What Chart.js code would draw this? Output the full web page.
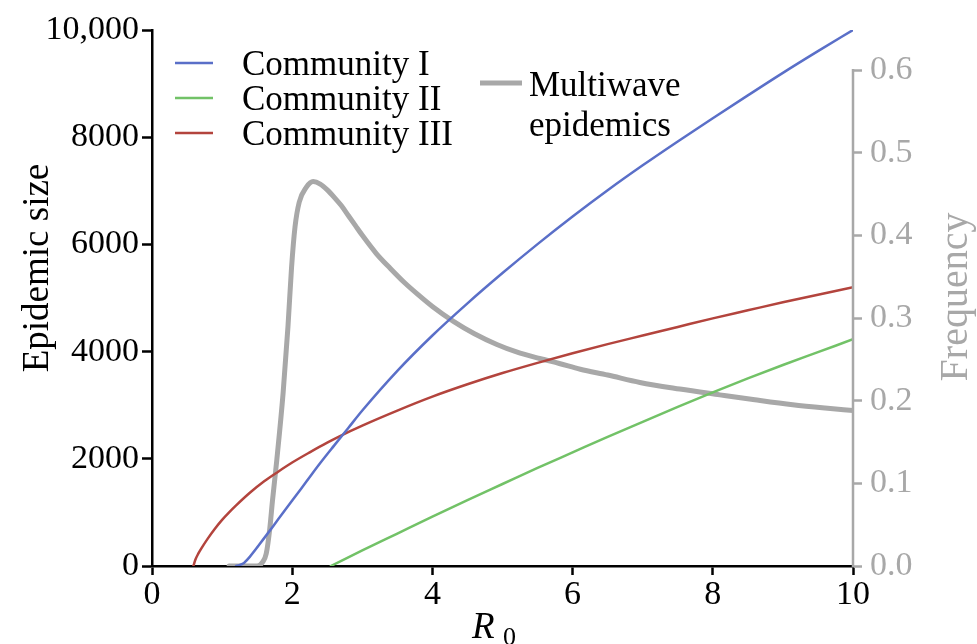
<!DOCTYPE html>
<html>
<head>
<meta charset="utf-8">
<script src="https://cdn.jsdelivr.net/npm/chart.js@4"></script>
<style>
  body { margin: 0; background: #fff; }
  canvas { display: block; }
</style>
</head>
<body>
<canvas id="myChart" width="977" height="644"></canvas>
<script>
// epidemic size per community against R0
var community1R0 = [1.2, 1.3, 1.4, 1.6, 1.8, 2.0, 2.2, 2.4, 2.6, 2.8, 3.0, 3.5, 4.0, 4.5, 5.0, 5.5, 6.0, 6.5, 7.0, 7.5, 8.0, 8.5, 9.0, 9.5, 10];
var community1Size = [0, 45, 180, 520, 870, 1220, 1570, 1920, 2250, 2575, 2900, 3640, 4300, 4900, 5465, 6005, 6520, 7010, 7475, 7920, 8355, 8780, 9200, 9605, 10000];

var community2R0 = [2.55, 3, 3.5, 4, 4.5, 5, 5.5, 6, 6.5, 7, 7.5, 8, 8.5, 9, 9.5, 10];
var community2Size = [0, 290, 605, 920, 1230, 1530, 1830, 2120, 2410, 2690, 2970, 3240, 3500, 3750, 3990, 4230];

var community3R0 = [0.59, 0.62, 0.66, 0.7, 0.8, 0.9, 1.0, 1.1, 1.2, 1.4, 1.6, 1.8, 2.0, 2.25, 2.5, 2.82, 3.0, 3.5, 4.0, 4.5, 5.0, 5.5, 6.0, 6.5, 7.0, 7.5, 8.0, 8.5, 9.0, 9.5, 10];
var community3Size = [0, 120, 230, 320, 520, 700, 860, 1000, 1130, 1370, 1580, 1760, 1930, 2120, 2300, 2510, 2620, 2900, 3160, 3390, 3600, 3790, 3970, 4140, 4300, 4460, 4620, 4770, 4920, 5060, 5200];

// frequency of multiwave epidemics (right axis)
var multiwaveR0 = [1.1, 1.5, 1.58, 1.63, 1.68, 1.72, 1.78, 1.87, 1.94, 1.99, 2.04, 2.1, 2.2, 2.3, 2.4, 2.5, 2.6, 2.7, 2.8, 2.9, 3.0, 3.2, 3.4, 3.6, 3.8, 4.0, 4.3, 4.6, 4.92, 5.2, 5.53, 5.81, 6.11, 6.5, 6.96, 7.53, 8.1, 8.6, 9.14, 9.6, 10];
var multiwaveFreq = [0, 0, 0.005, 0.015, 0.045, 0.08, 0.128, 0.209, 0.29, 0.36, 0.41, 0.44, 0.458, 0.465, 0.462, 0.455, 0.446, 0.436, 0.424, 0.412, 0.4, 0.378, 0.36, 0.343, 0.328, 0.314, 0.296, 0.281, 0.268, 0.259, 0.251, 0.245, 0.238, 0.231, 0.222, 0.214, 0.207, 0.201, 0.195, 0.191, 0.188];

var xTicks = [0, 2, 4, 6, 8, 10];
var sizeTicks = [0, 2000, 4000, 6000, 8000, 10000];
var freqTicks = [0, 0.1, 0.2, 0.3, 0.4, 0.5, 0.6];

var serif = "'Liberation Serif', 'Times New Roman', serif";
var grey = '#a8a8a8';

function toPoints(xs, ys) {
    return xs.map(function (x, i) { return { x: x, y: ys[i] }; });
}

// the right axis stops at 0.6 while sharing the plot height with 0..10,000
var freqMax = 0.6 * 536 / 496;

var legendAndTitles = {
    id: 'legendAndTitles',
    afterDraw: function (chart) {
        var c = chart.ctx;
        var area = chart.chartArea;
        var y2 = chart.scales.y2;
        c.save();

        // right axis line, only up to the last tick
        c.strokeStyle = grey;
        c.lineWidth = 2.5;
        c.beginPath();
        c.moveTo(area.right, y2.getPixelForValue(0) + 1);
        c.lineTo(area.right, y2.getPixelForValue(0.6) - 1);
        c.stroke();

        // legend
        var rows = [0, 1, 2];
        c.font = '35px ' + serif;
        c.textBaseline = 'alphabetic';
        c.textAlign = 'left';
        rows.forEach(function (i) {
            var ds = chart.data.datasets[i];
            var ly = 63 + i * 35;
            c.strokeStyle = ds.borderColor;
            c.lineWidth = 2.5;
            c.beginPath();
            c.moveTo(175, ly);
            c.lineTo(213, ly);
            c.stroke();
            c.fillStyle = '#000';
            c.fillText(ds.label, 242, ly + 12);
        });
        c.strokeStyle = grey;
        c.lineWidth = 5;
        c.beginPath();
        c.moveTo(480, 83);
        c.lineTo(522, 83);
        c.stroke();
        c.fillStyle = '#000';
        c.fillText('Multiwave', 529, 96);
        c.fillText('epidemics', 529, 136);

        // y axis titles
        c.save();
        c.translate(48, 268);
        c.rotate(-Math.PI / 2);
        c.textAlign = 'center';
        c.font = '37px ' + serif;
        c.fillStyle = '#000';
        c.fillText('Epidemic size', 0, 0);
        c.restore();

        c.save();
        c.translate(967, 297);
        c.rotate(-Math.PI / 2);
        c.textAlign = 'center';
        c.font = '40px ' + serif;
        c.fillStyle = grey;
        c.fillText('Frequency', 0, 0);
        c.restore();

        // x axis title: italic R with subscript 0
        c.fillStyle = '#000';
        c.textAlign = 'left';
        c.font = 'italic 37px ' + serif;
        c.fillText('R', 472, 638);
        c.font = '26px ' + serif;
        c.fillText('0', 503, 645);

        c.restore();
    }
};

var ctx = document.getElementById('myChart').getContext('2d');

var myChart = new Chart(ctx, {
    type: 'line',
    data: {
        datasets: [{
            label: 'Community I',
            data: toPoints(community1R0, community1Size),
            borderColor: '#5a6fc8',
            borderWidth: 2.5,
            yAxisID: 'y'
        }, {
            label: 'Community II',
            data: toPoints(community2R0, community2Size),
            borderColor: '#72c267',
            borderWidth: 2.5,
            yAxisID: 'y'
        }, {
            label: 'Community III',
            data: toPoints(community3R0, community3Size),
            borderColor: '#b3443d',
            borderWidth: 2.5,
            yAxisID: 'y'
        }, {
            label: 'Multiwave epidemics',
            data: toPoints(multiwaveR0, multiwaveFreq),
            borderColor: grey,
            borderWidth: 5,
            yAxisID: 'y2'
        }]
    },
    options: {
        responsive: false,
        animation: false,
        layout: {
            padding: { top: 30, left: 0, right: 0, bottom: 0 }
        },
        elements: {
            point: { radius: 0, hoverRadius: 0 },
            line: { cubicInterpolationMode: 'monotone', borderCapStyle: 'round', borderJoinStyle: 'round' }
        },
        plugins: {
            legend: { display: false },
            tooltip: { enabled: false }
        },
        scales: {
            x: {
                type: 'linear',
                min: 0,
                max: 10,
                afterBuildTicks: function (scale) {
                    scale.ticks = xTicks.map(function (v) { return { value: v }; });
                },
                afterFit: function (scale) { scale.height = 78; },
                ticks: {
                    color: '#000',
                    font: { family: serif, size: 34 },
                    padding: 0,
                    maxRotation: 0
                },
                grid: {
                    drawOnChartArea: false,
                    tickLength: 9,
                    tickWidth: 2.5,
                    tickColor: '#000'
                },
                border: { color: '#000', width: 2.5 }
            },
            y: {
                position: 'left',
                min: 0,
                max: 10000,
                afterBuildTicks: function (scale) {
                    scale.ticks = sizeTicks.map(function (v) { return { value: v }; });
                },
                afterFit: function (scale) { scale.width = 152; },
                ticks: {
                    color: '#000',
                    font: { family: serif, size: 34 },
                    padding: 3,
                    callback: function (v) { return v === 10000 ? '10,000' : String(v); }
                },
                grid: {
                    drawOnChartArea: false,
                    tickLength: 10,
                    tickWidth: 2.5,
                    tickColor: '#000'
                },
                border: { color: '#000', width: 2.5 }
            },
            y2: {
                position: 'right',
                min: 0,
                max: freqMax,
                afterBuildTicks: function (scale) {
                    scale.ticks = freqTicks.map(function (v) { return { value: v }; });
                },
                afterFit: function (scale) { scale.width = 124; },
                ticks: {
                    color: grey,
                    font: { family: serif, size: 34 },
                    padding: 8,
                    callback: function (v) { return v.toFixed(1); }
                },
                grid: {
                    drawOnChartArea: false,
                    tickLength: 9,
                    tickWidth: 2.5,
                    tickColor: grey
                },
                border: { display: false }
            }
        }
    },
    plugins: [legendAndTitles]
});
</script>
</body>
</html>
